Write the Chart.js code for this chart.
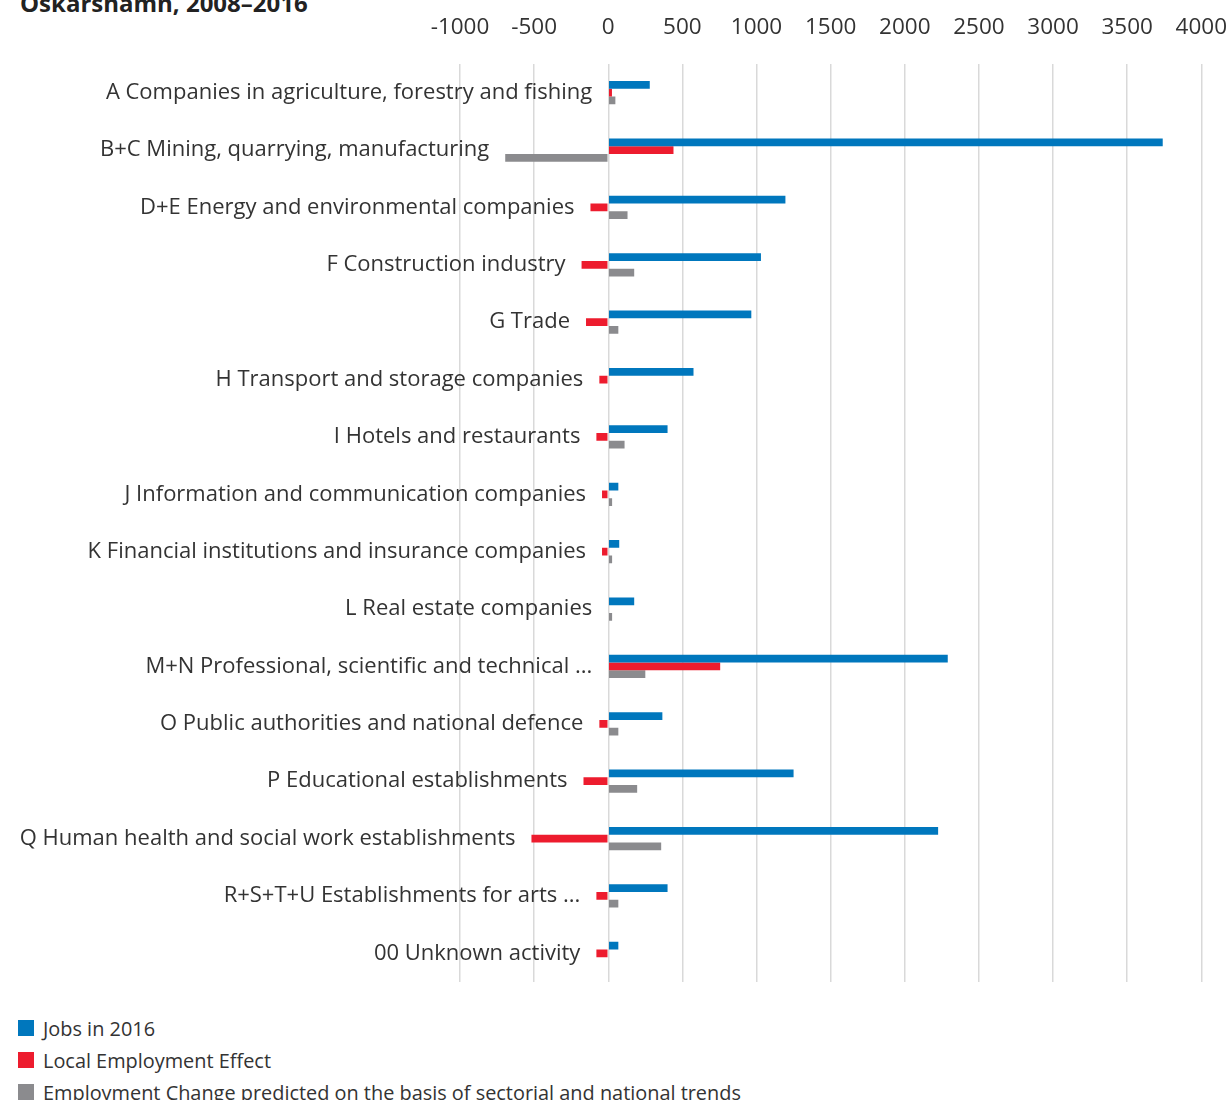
<!DOCTYPE html>
<html>
<head>
<meta charset="utf-8">
<script src="https://cdn.jsdelivr.net/npm/chart.js@4.4.1/dist/chart.umd.min.js"></script>
<style>
    body { margin: 0; background: #fff; font-family: "Open Sans", sans-serif; }
    #wrap { position: relative; width: 1229px; height: 1100px; overflow: hidden; }
    #title { position: absolute; left: 20px; top: -14px; font-weight: bold; font-size: 24px; color: #222; }
    #chartBox { position: absolute; left: 0; top: -9px; width: 1250px; height: 1009px; }
    #legend { position: absolute; left: 18px; top: 1012px; }
    .item { display: flex; align-items: center; height: 32px; font-size: 19.9px; color: #333; }
    .sw { width: 16px; height: 16px; margin-right: 9px; }
</style>
</head>
<body>
<div id="wrap">
    <div id="title">Oskarshamn, 2008–2016</div>
    <div id="chartBox"><canvas id="sectorChart"></canvas></div>
    <div id="legend"></div>
</div>
<script>
// Sectors (top to bottom)
const categories = [
    'A Companies in agriculture, forestry and fishing',
    'B+C Mining, quarrying, manufacturing',
    'D+E Energy and environmental companies',
    'F Construction industry',
    'G Trade',
    'H Transport and storage companies',
    'I Hotels and restaurants',
    'J Information and communication companies',
    'K Financial institutions and insurance companies',
    'L Real estate companies',
    'M+N Professional, scientific and technical ...',
    'O Public authorities and national defence',
    'P Educational establishments',
    'Q Human health and social work establishments',
    'R+S+T+U Establishments for arts ...',
    '00 Unknown activity'
];

// Series values
const jobs2016 = [280, 3740, 1195, 1030, 965, 575, 400, 68, 74, 175, 2290, 365, 1250, 2225, 400, 68];
const localEffect = [25, 440, -120, -180, -150, -60, -80, -42, -42, 0, 755, -60, -167, -518, -80, -80];
const predictedChange = [48, -695, 130, 175, 68, 0, 110, 26, 26, 26, 250, 68, 195, 357, 68, 0];

// Axis ticks
const xMin = -1000;
const xMax = 4000;
const xStep = 500;

const seriesNames = ['Jobs in 2016', 'Local Employment Effect', 'Employment Change predicted on the basis of sectorial and national trends'];
const seriesColors = ['#0077bd', '#ed1c2e', '#8b8b8e'];

// Draws category names just left of the leftmost bar of each group
const categoryLabels = {
    id: 'categoryLabels',
    afterDatasetsDraw(chart) {
        const { ctx, scales: { x, y } } = chart;
        ctx.save();
        ctx.font = '22px "Open Sans"';
        ctx.fillStyle = '#333';
        ctx.textAlign = 'right';
        ctx.textBaseline = 'middle';
        categories.forEach((name, i) => {
            const minVal = Math.min(0, jobs2016[i], localEffect[i], predictedChange[i]);
            ctx.fillText(name, x.getPixelForValue(minVal) - 16, y.getPixelForValue(i));
        });
        ctx.restore();
    }
};

const ctx = document.getElementById('sectorChart').getContext('2d');
const sectorChart = new Chart(ctx, {
    type: 'bar',
    data: {
        labels: categories,
        datasets: [jobs2016, localEffect, predictedChange].map((values, i) => ({
            label: seriesNames[i],
            data: values,
            backgroundColor: seriesColors[i],
            borderWidth: 0,
            categoryPercentage: 0.405,
            barPercentage: 1.0
        }))
    },
    options: {
        indexAxis: 'y',
        responsive: true,
        maintainAspectRatio: false,
        animation: false,
        layout: {
            padding: { left: 460, right: 0, top: 0, bottom: 18 }
        },
        scales: {
            x: {
                position: 'top',
                min: xMin,
                max: xMax,
                ticks: {
                    stepSize: xStep,
                    color: '#333',
                    font: { family: 'Open Sans', size: 22.5 },
                    padding: 23,
                    callback: value => String(value)
                },
                grid: {
                    color: '#d9d9d9',
                    lineWidth: 1.5,
                    drawTicks: false
                },
                border: { display: false }
            },
            y: {
                display: false
            }
        },
        plugins: {
            legend: { display: false },
            tooltip: { enabled: false }
        }
    },
    plugins: [categoryLabels]
});

// Legend below the chart, one entry per line
document.getElementById('legend').innerHTML = sectorChart.data.datasets.map(ds => `
    <div class="item"><span class="sw" style="background:${ds.backgroundColor}"></span>${ds.label}</div>
`).join('');
</script>
</body>
</html>
